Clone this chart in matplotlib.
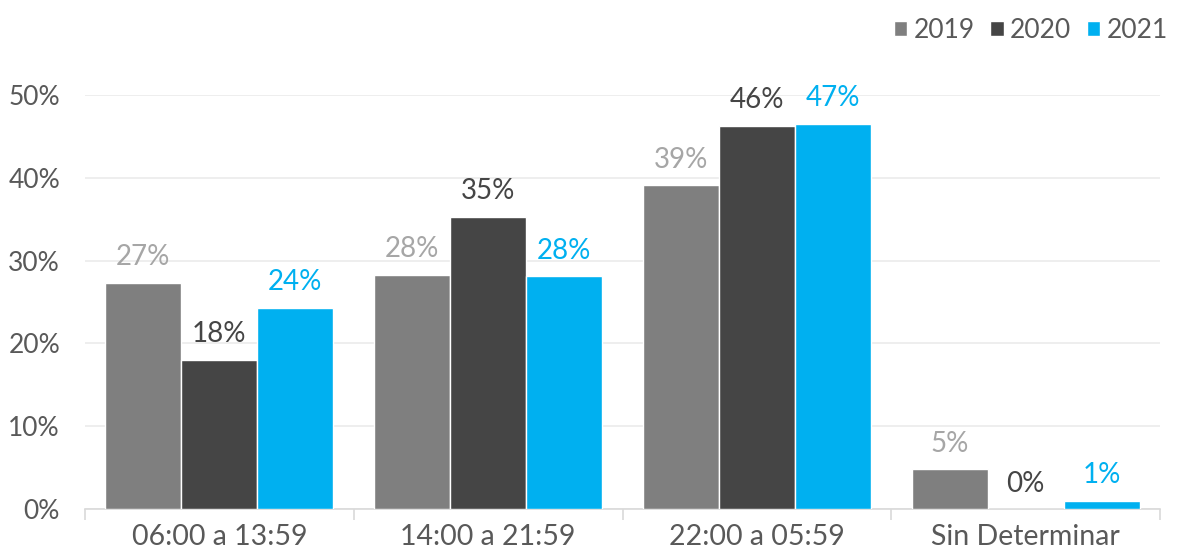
import matplotlib
matplotlib.use("Agg")
import matplotlib.pyplot as plt
import numpy as np

categories = ["06:00 a 13:59", "14:00 a 21:59", "22:00 a 05:59", "Sin Determinar"]
series_names = ["2019", "2020", "2021"]
v2019 = [27.3, 28.3, 39.1, 4.8]
v2020 = [18.0, 35.3, 46.3, 0.0]
v2021 = [24.3, 28.1, 46.5, 1.0]
labels2019 = ["27%", "28%", "39%", "5%"]
labels2020 = ["18%", "35%", "46%", "0%"]
labels2021 = ["24%", "28%", "47%", "1%"]
yticks = [0, 10, 20, 30, 40, 50]
ytick_labels = ["0%", "10%", "20%", "30%", "40%", "50%"]

colors = ["#7f7f7f", "#454545", "#00b0f0"]
label_colors = ["#a6a6a6", "#454545", "#00b0f0"]
text_color = "#595959"

plt.rcParams['font.family'] = ['Lato', 'DejaVu Sans']

fig = plt.figure(figsize=(11.86, 5.54), dpi=100)
ax = fig.add_axes([85/1186, 45/554, 1075/1186, 414/554])

x = np.arange(len(categories))
w = 0.283
vals = [v2019, v2020, v2021]
labs = [labels2019, labels2020, labels2021]
for i, (v, lab) in enumerate(zip(vals, labs)):
    pos = x + (i - 1) * w
    ax.bar(pos, v, width=w, color=colors[i], edgecolor="white", linewidth=1, zorder=3,
           label=series_names[i])
    for px_, val, t in zip(pos, v, lab):
        ax.annotate(t, (px_, val), xytext=(0, 9), textcoords="offset points",
                    ha="center", va="bottom", fontsize=20, color=label_colors[i],
                    annotation_clip=False, zorder=4)

ax.set_xlim(-0.5, len(categories) - 0.5)
ax.set_ylim(0, 50)
ax.set_yticks(yticks)
ax.set_yticklabels(ytick_labels, fontsize=19, color=text_color)
ax.yaxis.grid(True, color="#ebebeb", linewidth=1.2, zorder=0)
ax.tick_params(axis="y", length=0, pad=18)

ax.set_xticks(x)
ax.set_xticklabels(categories, fontsize=20.5, color=text_color)
ax.set_xticks(np.arange(len(categories) + 1) - 0.5, minor=True)
ax.tick_params(axis="x", which="major", length=0, pad=11)
ax.tick_params(axis="x", which="minor", length=8, color="#d9d9d9", direction="out", width=1.2)

for s in ["top", "right", "left"]:
    ax.spines[s].set_visible(False)
ax.spines["bottom"].set_color("#d9d9d9")
ax.spines["bottom"].set_linewidth(1.2)

leg = fig.legend(loc="upper right", bbox_to_anchor=(1192/1186, 1.01), ncol=3, frameon=False,
                 handlelength=0.5, handleheight=0.5, handletextpad=0.25,
                 columnspacing=0.6, labelcolor=text_color, prop={'size': 19})

fig.savefig("out.png", dpi=100)
